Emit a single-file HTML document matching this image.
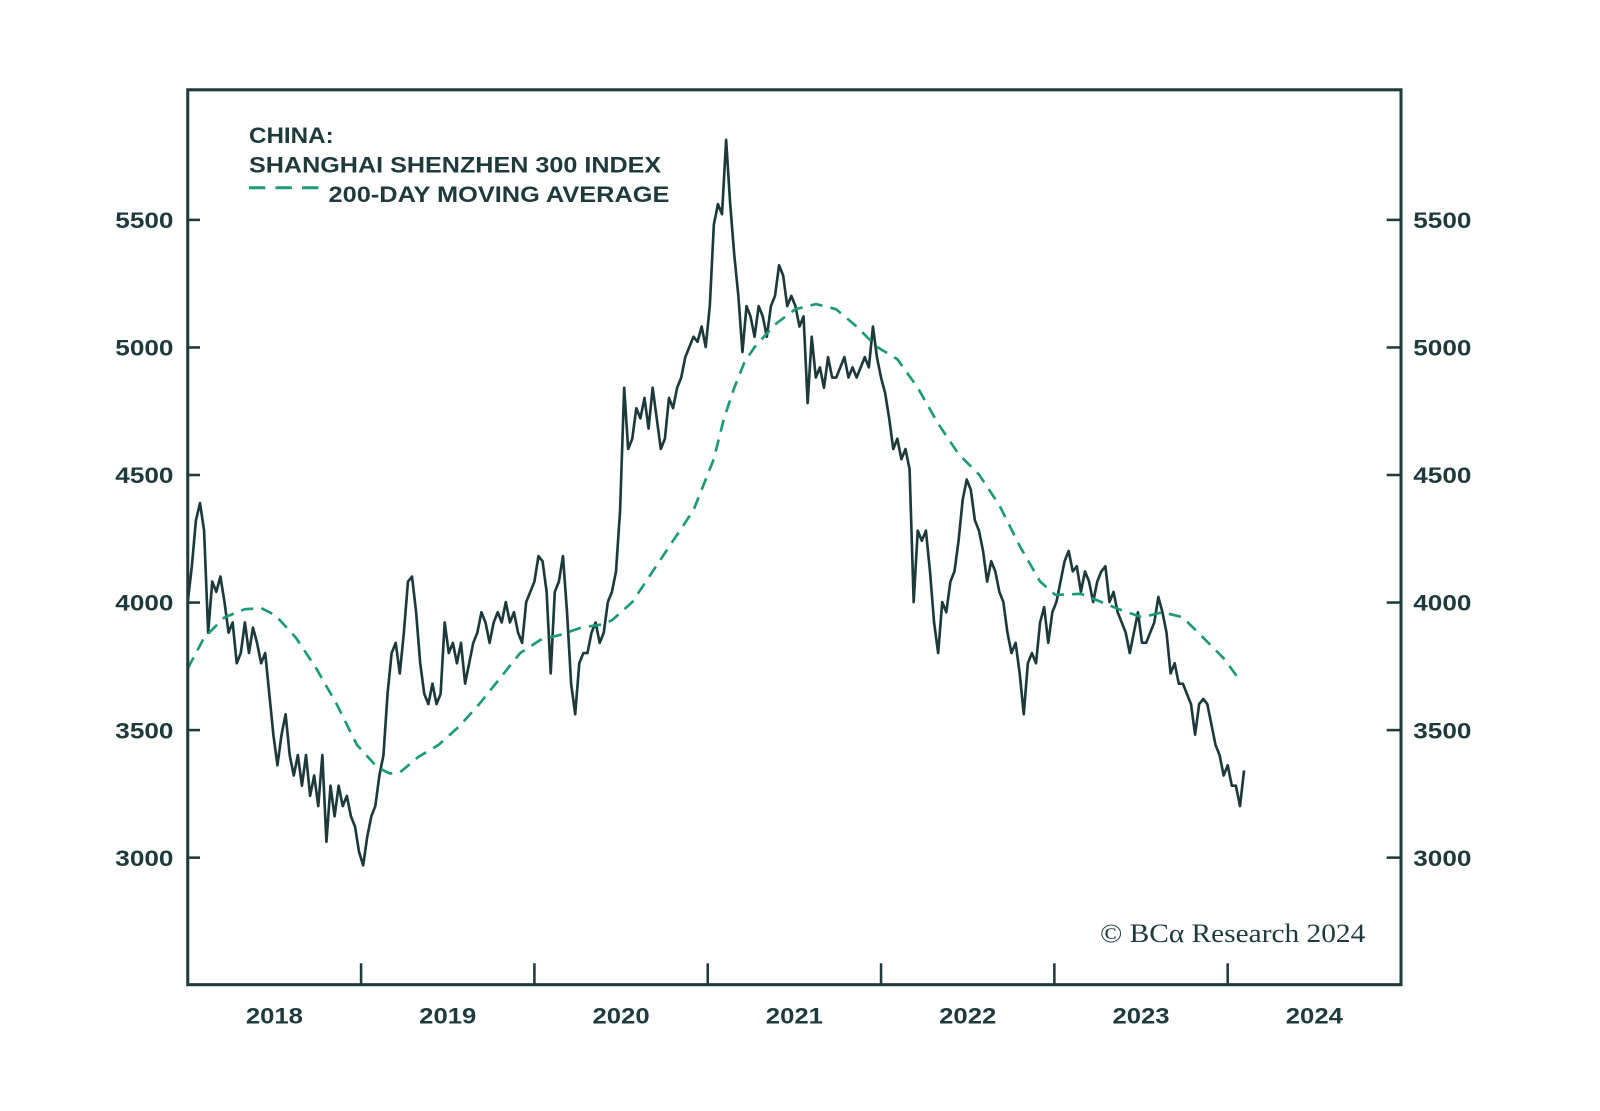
<!DOCTYPE html>
<html><head><meta charset="utf-8"><style>
html,body{margin:0;padding:0;background:#fff;}
svg{display:block;}
text{font-family:"Liberation Sans",sans-serif;fill:#1e3a3c;}
</style></head><body>
<svg id="chart" width="1600" height="1111" viewBox="0 0 1600 1111" xmlns="http://www.w3.org/2000/svg">
<rect x="0" y="0" width="1600" height="1111" fill="#fff"/>
<g id="root" transform="scale(1.0204)">
<g id="ticks"></g>
<g id="series"></g>
<rect x="184" y="88" width="1189" height="877" fill="none" stroke="#1f3b3d" stroke-width="3"/>
<g>
<text x="244" y="140" font-size="22" font-weight="bold" textLength="83" lengthAdjust="spacingAndGlyphs">CHINA:</text>
<text x="244" y="169" font-size="22" font-weight="bold" textLength="404" lengthAdjust="spacingAndGlyphs">SHANGHAI SHENZHEN 300 INDEX</text>
<line x1="244" y1="184" x2="314" y2="184" stroke="#1a9a78" stroke-width="3" stroke-dasharray="16,10"/>
<text x="322" y="198" font-size="22" font-weight="bold" textLength="334" lengthAdjust="spacingAndGlyphs">200-DAY MOVING AVERAGE</text>
</g>
<text x="1078" y="923" font-size="26" textLength="260" lengthAdjust="spacingAndGlyphs" style="font-family:'Liberation Serif',serif">© BCα Research 2024</text>
</g>
</svg>
<script>
const yTicks=[3000,3500,4000,4500,5000,5500];
const xTickYears=[2019,2020,2021,2022,2023,2024];
const xLabels=["2018","2019","2020","2021","2022","2023","2024"];
const idxStart=2018.0;
const idxStep=0.02353;
const idxValues=[4002,4142,4322,4390,4282,3882,4082,4042,4102,4002,3882,3922,3762,3802,3922,3802,3902,3842,3762,3802,3642,3482,3362,3482,3562,3402,3322,3402,3282,3402,3242,3322,3202,3402,3062,3282,3162,3282,3202,3242,3162,3122,3022,2970,3082,3162,3202,3322,3402,3642,3802,3842,3722,3882,4082,4102,3962,3762,3642,3602,3682,3602,3642,3922,3802,3842,3762,3842,3682,3762,3842,3882,3962,3922,3842,3922,3962,3922,4002,3922,3962,3882,3842,4002,4042,4082,4182,4162,4042,3722,4042,4082,4182,3962,3682,3562,3762,3802,3802,3882,3922,3842,3882,4002,4042,4122,4362,4842,4602,4642,4762,4722,4802,4682,4842,4722,4602,4642,4802,4762,4842,4882,4962,5002,5042,5022,5082,5002,5162,5482,5562,5522,5814,5562,5362,5202,4982,5162,5122,5042,5162,5122,5042,5162,5202,5322,5282,5162,5202,5162,5082,5122,4782,5042,4882,4922,4842,4962,4882,4882,4922,4962,4882,4922,4882,4922,4962,4922,5082,4962,4882,4822,4722,4602,4642,4562,4602,4522,4002,4282,4242,4282,4122,3922,3802,4002,3962,4082,4122,4242,4402,4482,4442,4322,4282,4202,4082,4162,4122,4042,4002,3882,3802,3842,3722,3562,3762,3802,3762,3922,3982,3842,3962,4002,4082,4162,4202,4122,4142,4042,4122,4082,4002,4082,4122,4142,4002,4042,3962,3922,3882,3802,3882,3962,3842,3842,3882,3922,4022,3962,3882,3722,3762,3682,3682,3642,3602,3482,3602,3622,3602,3522,3442,3402,3322,3362,3282,3282,3202,3342];
const maDates=[2018.000,2018.094,2018.212,2018.329,2018.424,2018.506,2018.624,2018.741,2018.859,2018.976,2019.094,2019.165,2019.224,2019.329,2019.447,2019.565,2019.682,2019.800,2019.918,2020.035,2020.153,2020.271,2020.388,2020.447,2020.565,2020.682,2020.800,2020.918,2021.035,2021.094,2021.153,2021.212,2021.271,2021.388,2021.506,2021.624,2021.741,2021.859,2021.976,2022.094,2022.212,2022.329,2022.447,2022.565,2022.682,2022.800,2022.918,2023.006,2023.153,2023.271,2023.388,2023.506,2023.624,2023.741,2023.859,2023.976,2024.076];
const maValues=[3742,3862,3942,3974,3978,3950,3862,3742,3602,3442,3354,3330,3334,3394,3442,3514,3602,3702,3802,3854,3874,3902,3914,3930,4002,4122,4242,4362,4562,4722,4842,4942,5002,5090,5150,5170,5150,5082,5002,4954,4842,4702,4582,4502,4382,4222,4082,4030,4034,4002,3970,3942,3962,3942,3862,3782,3690];

const NS="http://www.w3.org/2000/svg";
const X0=184,X1=1373,Y0=965,Y1=88,T0=2018,T1=2025;
function xs(t){return X0+(t-T0)/(T1-T0)*(X1-X0);}
function ys(v){return Y0-(v-2502)/(6010-2502)*(Y0-Y1);}
function mk(tag,attrs,parent){const e=document.createElementNS(NS,tag);for(const k in attrs)e.setAttribute(k,attrs[k]);parent.appendChild(e);return e;}
const tg=document.getElementById('ticks');
const root=document.getElementById('root');
yTicks.forEach(v=>{
  const y=ys(v);
  let l=mk('line',{x1:184,x2:196,y1:y,y2:y,stroke:'#1f3b3d','stroke-width':2.5},tg);
  
  
  let r=mk('line',{x1:1359,x2:1373,y1:y,y2:y,stroke:'#1f3b3d','stroke-width':2.5},tg);
  
  
  let t=mk('text',{x:113,y:y+8,'font-size':22,'font-weight':'bold',textLength:57,lengthAdjust:'spacingAndGlyphs'},root);
  t.textContent=v;
  
  
  let t2=mk('text',{x:1385,y:y+8,'font-size':22,'font-weight':'bold',textLength:57,lengthAdjust:'spacingAndGlyphs'},root);
  t2.textContent=v;
  
  
});
xTickYears.forEach(yr=>{
  const x=xs(yr);
  let l=mk('line',{x1:x,x2:x,y1:944,y2:965,stroke:'#1f3b3d','stroke-width':2.5},tg);
  
  
});
xLabels.forEach((s,i)=>{
  let t=mk('text',{x:xs(T0+i+0.5)-28,y:1003,'font-size':22,'font-weight':'bold',textLength:56,lengthAdjust:'spacingAndGlyphs'},root);
  t.textContent=s;
  
  
});
const sg=document.getElementById('series');
let d1=idxValues.map((v,i)=>(i?'L':'M')+xs(idxStart+i*idxStep).toFixed(1)+','+ys(v).toFixed(1)).join('');
let p1=mk('path',{d:d1,fill:'none',stroke:'#1c3a3b','stroke-width':2.6,'stroke-linejoin':'round'},sg);


let d2=maValues.map((v,i)=>(i?'L':'M')+xs(maDates[i]).toFixed(1)+','+ys(v).toFixed(1)).join('');
let p2=mk('path',{d:d2,fill:'none',stroke:'#1a9a78','stroke-width':2.6,'stroke-dasharray':'12,8'},sg);


</script>
</body></html>
